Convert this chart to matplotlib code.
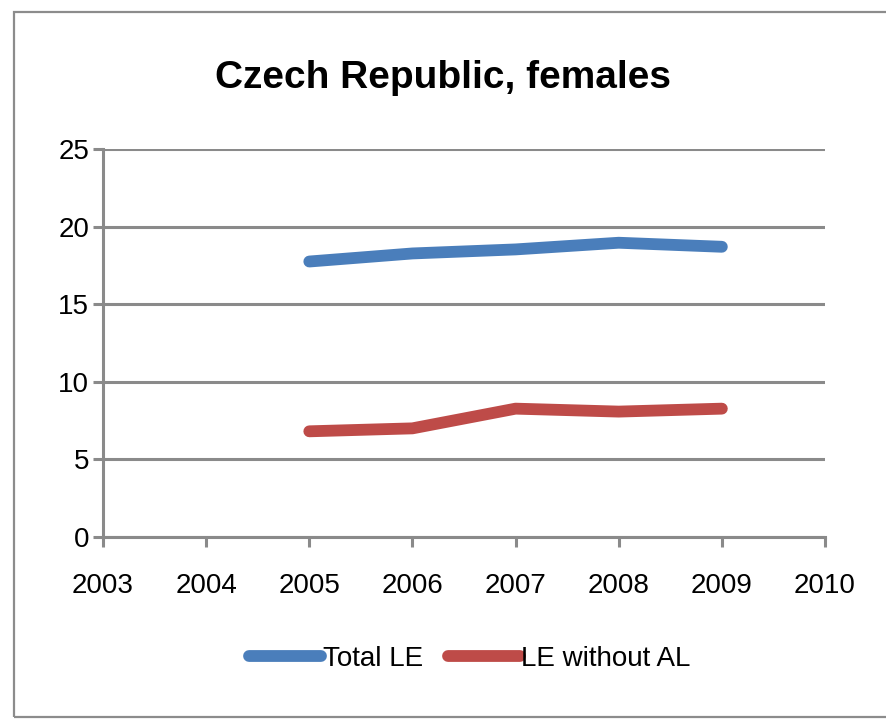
import matplotlib
matplotlib.use("Agg")
import matplotlib.pyplot as plt
from matplotlib.patches import Rectangle

years = [2005, 2006, 2007, 2008, 2009]
total_le = [17.75, 18.27, 18.53, 18.96, 18.70]
le_without_al = [6.81, 7.00, 8.27, 8.08, 8.27]
x_ticks = [2003, 2004, 2005, 2006, 2007, 2008, 2009, 2010]
y_ticks = [0, 5, 10, 15, 20, 25]
title = "Czech Republic, females"
series_names = ["Total LE", "LE without AL"]

plt.rcParams['font.family'] = ['Liberation Sans Narrow', 'Liberation Sans', 'DejaVu Sans']

W, H = 887, 719
fig = plt.figure(figsize=(W / 100, H / 100), dpi=100)
fig.patches.append(Rectangle((14 / W, 2 / H), 1.0, 705 / H, transform=fig.transFigure,
                             fill=False, edgecolor='#8c8c8c', linewidth=1.6))

ax = fig.add_axes([103 / W, 1 - 537 / H, (825 - 103) / W, (537 - 149) / H])
gray = '#8a8a8a'
ax.plot(years, total_le, color='#4A7EBB', lw=8.5, solid_capstyle='round',
        solid_joinstyle='round', label=series_names[0], zorder=3)
ax.plot(years, le_without_al, color='#BE4B48', lw=8.5, solid_capstyle='round',
        solid_joinstyle='round', label=series_names[1], zorder=3)

ax.set_xlim(x_ticks[0], x_ticks[-1])
ax.set_ylim(0, 25)
ax.set_xticks(x_ticks)
ax.set_xticklabels([str(v) for v in x_ticks])
ax.set_yticks(y_ticks)
ax.set_yticklabels([str(v) for v in y_ticks])
ax.yaxis.grid(True, color=gray, lw=2.2)
ax.set_axisbelow(True)
for s in ['top', 'right']:
    ax.spines[s].set_visible(False)
for s in ['left', 'bottom']:
    ax.spines[s].set_color(gray)
    ax.spines[s].set_linewidth(2.2)
ax.tick_params(axis='both', colors=gray, width=2.2, length=7, labelcolor='black', labelsize=20)
ax.tick_params(axis='x', pad=19)
ax.tick_params(axis='y', pad=3)

fig.text(0.5, 1 - 78 / H, title, ha='center', va='center', fontsize=28, fontweight='bold')

fig.legend(loc='center', bbox_to_anchor=(470 / W, 1 - 659 / H), ncol=2, frameon=False,
           fontsize=20, handlelength=2.6, handletextpad=0.05, columnspacing=0.9)

fig.savefig('out.png', dpi=100)
